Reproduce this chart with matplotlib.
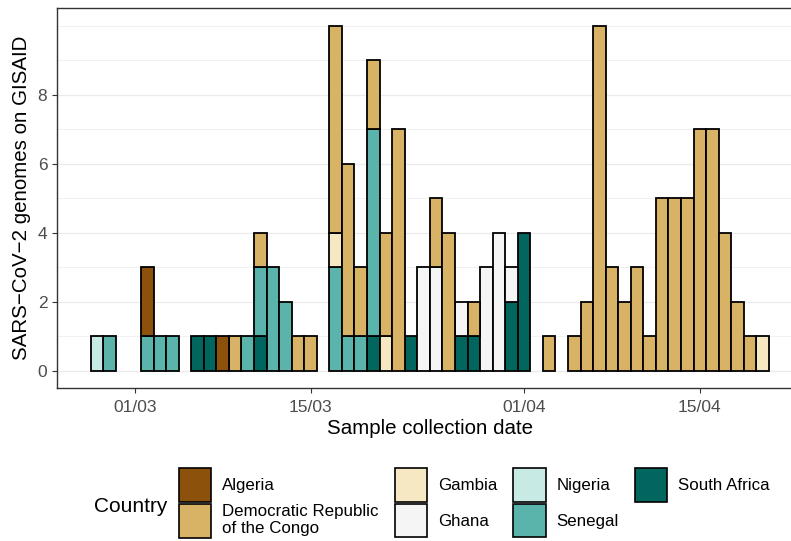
import numpy as np
import pandas as pd
import matplotlib
matplotlib.use("Agg")
import matplotlib.pyplot as plt
import matplotlib.dates as mdates
from matplotlib.patches import Patch

plt.rcParams['font.family'] = ['Liberation Sans', 'DejaVu Sans']

# sample collection dates that have at least one genome (2020)
dates = ["2020-02-27", "2020-02-28", "2020-03-02", "2020-03-03", "2020-03-04",
         "2020-03-06", "2020-03-07", "2020-03-08", "2020-03-09", "2020-03-10",
         "2020-03-11", "2020-03-12", "2020-03-13", "2020-03-14", "2020-03-15",
         "2020-03-17", "2020-03-18", "2020-03-19", "2020-03-20", "2020-03-21",
         "2020-03-22", "2020-03-23", "2020-03-24", "2020-03-25", "2020-03-26",
         "2020-03-27", "2020-03-28", "2020-03-29", "2020-03-30", "2020-03-31",
         "2020-04-01", "2020-04-03", "2020-04-05", "2020-04-06", "2020-04-07",
         "2020-04-08", "2020-04-09", "2020-04-10", "2020-04-11", "2020-04-12",
         "2020-04-13", "2020-04-14", "2020-04-15", "2020-04-16", "2020-04-17",
         "2020-04-18", "2020-04-19", "2020-04-20"]

# genome counts per country, one value per date above
algeria = [0, 0, 2, 0, 0, 0, 0, 1, 0, 0,
           0, 0, 0, 0, 0, 0, 0, 0, 0, 0,
           0, 0, 0, 0, 0, 0, 0, 0, 0, 0,
           0, 0, 0, 0, 0, 0, 0, 0, 0, 0,
           0, 0, 0, 0, 0, 0, 0, 0]
drc = [0, 0, 0, 0, 0, 0, 0, 0, 1, 0,
       1, 0, 0, 1, 1, 6, 5, 2, 2, 3,
       7, 0, 0, 2, 4, 0, 1, 0, 0, 0,
       0, 1, 1, 2, 10, 3, 2, 3, 1, 5,
       5, 5, 7, 7, 4, 2, 1, 0]
gambia = [0, 0, 0, 0, 0, 0, 0, 0, 0, 0,
          0, 0, 0, 0, 0, 1, 0, 0, 0, 1,
          0, 0, 0, 0, 0, 0, 0, 0, 0, 0,
          0, 0, 0, 0, 0, 0, 0, 0, 0, 0,
          0, 0, 0, 0, 0, 0, 0, 1]
ghana = [0, 0, 0, 0, 0, 0, 0, 0, 0, 0,
         0, 0, 0, 0, 0, 0, 0, 0, 0, 0,
         0, 0, 3, 3, 0, 1, 0, 3, 4, 1,
         0, 0, 0, 0, 0, 0, 0, 0, 0, 0,
         0, 0, 0, 0, 0, 0, 0, 0]
nigeria = [1, 0, 0, 0, 0, 0, 0, 0, 0, 0,
           0, 0, 0, 0, 0, 0, 0, 0, 0, 0,
           0, 0, 0, 0, 0, 0, 0, 0, 0, 0,
           0, 0, 0, 0, 0, 0, 0, 0, 0, 0,
           0, 0, 0, 0, 0, 0, 0, 0]
senegal = [0, 1, 1, 1, 1, 0, 0, 0, 0, 1,
           2, 3, 2, 0, 0, 3, 1, 1, 6, 0,
           0, 0, 0, 0, 0, 0, 0, 0, 0, 0,
           0, 0, 0, 0, 0, 0, 0, 0, 0, 0,
           0, 0, 0, 0, 0, 0, 0, 0]
south_africa = [0, 0, 0, 0, 0, 1, 1, 0, 0, 0,
                1, 0, 0, 0, 0, 0, 0, 0, 1, 0,
                0, 1, 0, 0, 0, 1, 1, 0, 0, 2,
                4, 0, 0, 0, 0, 0, 0, 0, 0, 0,
                0, 0, 0, 0, 0, 0, 0, 0]

countries = ["Algeria", "Democratic Republic\nof the Congo", "Gambia", "Ghana",
             "Nigeria", "Senegal", "South Africa"]
counts = [algeria, drc, gambia, ghana, nigeria, senegal, south_africa]
colors = ["#8c510a", "#d8b365", "#f6e8c3", "#f5f5f5", "#c7eae5", "#5ab4ac", "#01665e"]

x = pd.to_datetime(dates)

fig = plt.figure(figsize=(7.91, 5.41), dpi=100)
# panel runs past the right edge like the reference
ax = fig.add_axes([56.7 / 791, 152.7 / 541, 746.3 / 791, 380 / 541])

# ggplot stacks the last level at the bottom
bottom = np.zeros(len(dates))
for name, vals, col in reversed(list(zip(countries, counts, colors))):
    vals = np.array(vals)
    mask = vals > 0
    ax.bar(x[mask], vals[mask], width=1.0, bottom=bottom[mask], color=col,
           edgecolor="black", linewidth=1.3, zorder=3)
    bottom = bottom + vals

ax.set_xlim(pd.Timestamp("2020-02-23 19:00"), pd.Timestamp("2020-04-23 05:00"))
ax.set_ylim(-0.5, 10.5)

ax.xaxis.set_major_locator(mdates.DayLocator(bymonthday=[1, 15]))
ax.xaxis.set_major_formatter(mdates.DateFormatter("%d/%m"))
ax.set_yticks([0, 2, 4, 6, 8])
ax.set_yticks([1, 3, 5, 7, 9, 10], minor=True)

ax.grid(axis="y", which="major", color="#ebebeb", linewidth=0.9, zorder=0)
ax.grid(axis="y", which="minor", color="#ebebeb", linewidth=0.5, zorder=0)
ax.set_axisbelow(True)

for s in ax.spines.values():
    s.set_color("#333333")
    s.set_linewidth(1.0)

ax.tick_params(axis="both", which="major", length=3.3, width=0.8, color="#333333",
               labelcolor="#4d4d4d", labelsize=12.5)
ax.tick_params(axis="x", which="major", pad=5)
ax.tick_params(axis="y", which="major", pad=3.5)
ax.tick_params(axis="y", which="minor", length=0)

ax.set_xlabel("Sample collection date", fontsize=14.8, labelpad=3)
ax.set_ylabel("SARS\u2212CoV\u22122 genomes on GISAID", fontsize=14.8, labelpad=5)

# legend at the bottom, title to the left
handles = [Patch(facecolor=c, edgecolor="black", linewidth=1.2) for c in colors]
fig.legend(handles, countries, ncol=4, loc="upper left",
           bbox_to_anchor=(179 / 791, 1 - 468 / 541), frameon=False,
           fontsize=12.2, handlelength=1.9, handleheight=2.7,
           handletextpad=0.65, labelspacing=0.1, columnspacing=0.95,
           borderpad=0, borderaxespad=0)
fig.text(94 / 791, 1 - 507 / 541, "Country", fontsize=15, va="center", ha="left")

fig.savefig("out.png", dpi=100)
